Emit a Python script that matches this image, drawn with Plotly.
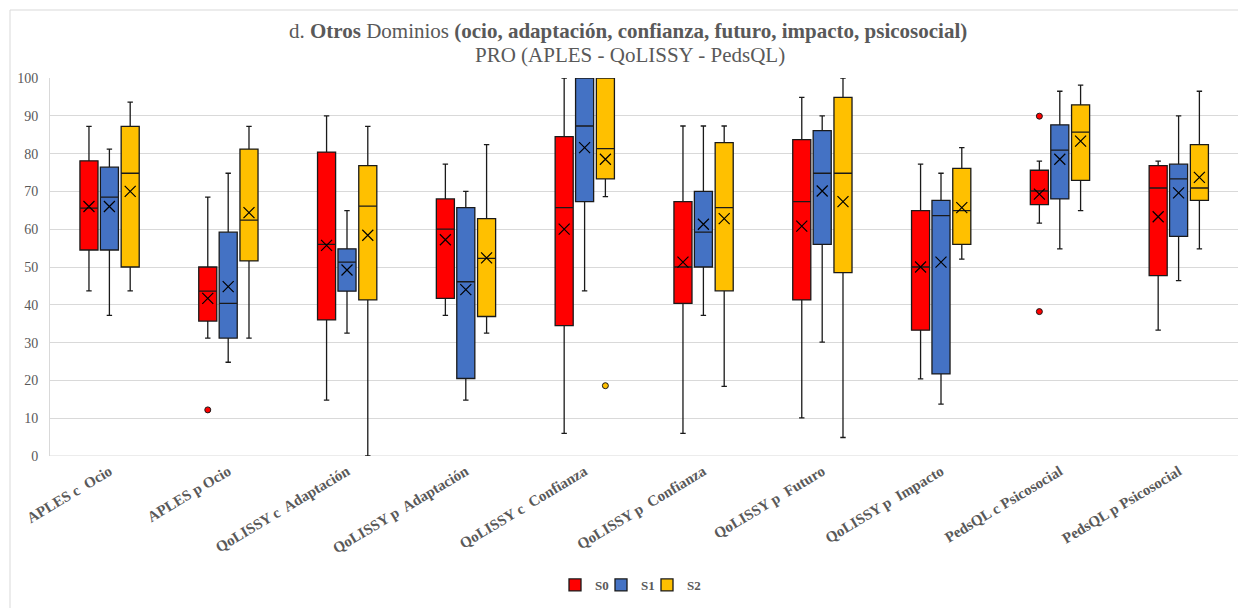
import plotly.graph_objects as go

categories = ["APLES c\u00a0 Ocio", "APLES p Ocio", "QoLISSY c\u00a0 Adaptación", "QoLISSY p\u00a0 Adaptación",
              "QoLISSY c\u00a0 Confianza", "QoLISSY p\u00a0 Confianza", "QoLISSY p\u00a0 Futuro",
              "QoLISSY p\u00a0 Impacto", "PedsQL c Psicosocial", "PedsQL p Psicosocial"]

series_names = ["S0", "S1", "S2"]
colors = ["#FF0000", "#4472C4", "#FFC000"]

S0_min = [43.7, 31.2, 14.8, 37.2, 6.0, 6.0, 10.1, 20.4, 61.6, 33.3]
S0_q1 = [54.5, 35.7, 36.0, 41.7, 34.5, 40.4, 41.3, 33.3, 66.5, 47.7]
S0_med = [65.6, 43.6, 56.0, 60.0, 65.7, 50.0, 67.3, 50.0, 70.1, 70.9]
S0_q3 = [78.1, 50.0, 80.4, 68.0, 84.5, 67.3, 83.7, 64.9, 75.6, 76.8]
S0_max = [87.2, 68.5, 90.0, 77.2, 100.0, 87.3, 94.9, 77.2, 78.0, 78.0]
S0_mean = [66.0, 41.7, 55.7, 57.2, 60.0, 51.3, 60.8, 50.0, 69.3, 63.3]

S1_min = [37.2, 24.8, 32.5, 14.8, 43.7, 37.2, 30.1, 13.7, 54.8, 46.4]
S1_q1 = [54.5, 31.2, 43.6, 20.5, 67.3, 50.0, 56.0, 21.7, 68.0, 58.1]
S1_med = [68.5, 40.4, 51.3, 46.1, 87.3, 59.2, 74.8, 63.6, 80.9, 73.3]
S1_q3 = [76.4, 59.2, 54.8, 65.7, 100.0, 70.0, 86.1, 67.6, 87.6, 77.2]
S1_max = [81.2, 74.8, 64.9, 70.0, 100.0, 87.3, 90.0, 74.8, 96.5, 90.0]
S1_mean = [66.0, 44.8, 49.2, 44.0, 81.6, 61.3, 70.1, 51.3, 78.5, 69.6]

S2_min = [43.7, 31.2, 0.0, 32.5, 68.6, 18.4, 4.9, 52.1, 64.9, 54.8]
S2_q1 = [50.0, 51.6, 41.3, 36.9, 73.3, 43.7, 48.5, 56.0, 72.9, 67.6]
S2_med = [74.8, 62.4, 66.1, 52.3, 81.3, 65.7, 74.8, 64.9, 85.7, 70.9]
S2_q3 = [87.2, 81.2, 76.8, 62.8, 100.0, 82.9, 94.9, 76.1, 92.9, 82.4]
S2_max = [93.6, 87.2, 87.2, 82.4, 100.0, 87.3, 100.0, 81.6, 98.1, 96.5]
S2_mean = [70.0, 64.4, 58.4, 52.4, 78.5, 62.8, 67.3, 65.7, 83.3, 73.7]

S0_out_cat = ["APLES p Ocio", "PedsQL c Psicosocial", "PedsQL c Psicosocial"]
S0_out_val = [12.2, 89.9, 38.2]
S1_out_cat = []
S1_out_val = []
S2_out_cat = ["QoLISSY c\u00a0 Confianza"]
S2_out_val = [18.6]

title_line1 = "d. <b>Otros</b> Dominios <b>(ocio, adaptación, confianza, futuro, impacto, psicosocial)</b>"
title_line2 = "PRO (APLES - QoLISSY - PedsQL)"

stats = [
    (S0_min, S0_q1, S0_med, S0_q3, S0_max, S0_mean, S0_out_cat, S0_out_val),
    (S1_min, S1_q1, S1_med, S1_q3, S1_max, S1_mean, S1_out_cat, S1_out_val),
    (S2_min, S2_q1, S2_med, S2_q3, S2_max, S2_mean, S2_out_cat, S2_out_val),
]

offsets = [-0.172, 0.0, 0.175]
box_w = 0.152
gray = "#595959"
serif = "Liberation Serif"
# plot area geometry in pixels (for placing paper-referenced items)
PL, PW, PT, PH = 50, 1188, 78, 378


def px_x(p):
    return (p - PL) / PW


def px_y(p):
    return (PT + PH - p) / PH


legend_keys = ["legend", "legend2", "legend3"]
legend_left_px = [555, 601, 647]

fig = go.Figure()
idx = {c: i for i, c in enumerate(categories)}
for k, (mn, q1, md, q3, mx, mean, oc, ov) in enumerate(stats):
    xs = [i + offsets[k] for i in range(len(categories))]
    fig.add_trace(go.Box(
        x=xs, q1=q1, median=md, q3=q3, lowerfence=mn, upperfence=mx,
        name=series_names[k], fillcolor=colors[k],
        line=dict(color="#1a1a1a", width=1.3), whiskerwidth=0.3,
        width=box_w, boxpoints=False, showlegend=True, hoverinfo="skip",
        legend=legend_keys[k],
    ))
    fig.add_trace(go.Scatter(
        x=xs, y=mean, mode="markers", showlegend=False, hoverinfo="skip",
        marker=dict(symbol="x-thin-open", size=11, color="#000000",
                    line=dict(color="#000000", width=1.2)),
    ))
    if oc:
        fig.add_trace(go.Scatter(
            x=[idx[c] + offsets[k] for c in oc], y=ov, mode="markers", showlegend=False, hoverinfo="skip",
            marker=dict(symbol="circle", size=6, color=colors[k], line=dict(color="#1a1a1a", width=1)),
        ))

legend_style = dict(orientation="h", xanchor="left", y=px_y(585), yanchor="middle",
                    font=dict(family=serif, size=13, color=gray, weight="bold"),
                    itemwidth=30, bgcolor="rgba(0,0,0,0)")

fig.update_layout(
    width=1238, height=608,
    paper_bgcolor="white", plot_bgcolor="white",
    font=dict(family=serif, color=gray),
    margin=dict(l=PL, r=0, t=PT, b=608 - PT - PH),
    showlegend=True,
    legend=dict(x=px_x(legend_left_px[0]), **legend_style),
    legend2=dict(x=px_x(legend_left_px[1]), **legend_style),
    legend3=dict(x=px_x(legend_left_px[2]), **legend_style),
    xaxis=dict(
        range=[-0.5, 9.5], tickmode="array", tickvals=list(range(len(categories))), ticktext=categories,
        tickangle=-31, showgrid=False, zeroline=False, showline=False,
        tickfont=dict(family=serif, size=15, color=gray, weight="bold"),
        ticklabelstandoff=3,
    ),
    yaxis=dict(
        range=[0, 100], dtick=10, showgrid=True, gridcolor="#D9D9D9", gridwidth=1,
        zeroline=False, showline=True, linecolor="#D9D9D9", linewidth=1,
        tickfont=dict(family=serif, size=14, color=gray),
        ticklabelstandoff=8,
    ),
    annotations=[
        dict(text=title_line1, xref="paper", yref="paper", x=px_x(628), y=px_y(31),
             xanchor="center", yanchor="middle", showarrow=False,
             font=dict(family=serif, size=21, color=gray)),
        dict(text=title_line2, xref="paper", yref="paper", x=px_x(630), y=px_y(55),
             xanchor="center", yanchor="middle", showarrow=False,
             font=dict(family=serif, size=21, color=gray)),
    ],
    shapes=[dict(type="rect", xref="paper", yref="paper",
                 x0=px_x(10), x1=1.2, y0=-0.6, y1=px_y(10),
                 line=dict(color="#D9D9D9", width=1), fillcolor="rgba(0,0,0,0)", layer="below")],
)
fig.add_shape(type="line", xref="paper", yref="y", x0=0, x1=1, y0=0, y1=0,
              line=dict(color="#D9D9D9", width=1), layer="below")

fig.write_html("out.html", config={"displayModeBar": False},
               post_script="document.body.style.margin='0';document.body.style.overflow='hidden';")
